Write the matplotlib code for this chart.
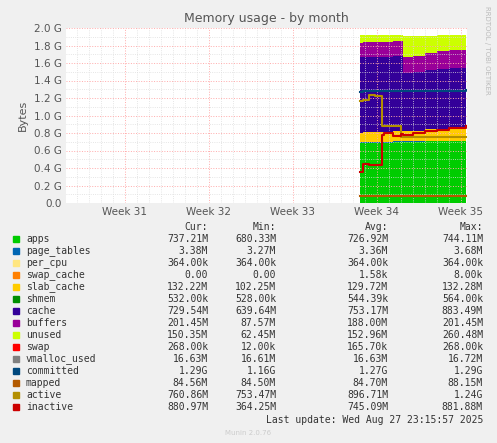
import numpy as np
import matplotlib.pyplot as plt

# tiempo en días desde el inicio de la semana 31
t = [19.6, 19.8, 20.3, 20.8, 21.4, 21.6, 22.3, 23.0, 23.2, 24.0, 25.0, 26.0, 27.0, 28.4]
apps = [0.69, 0.69, 0.69, 0.69, 0.69, 0.69, 0.70, 0.70, 0.70, 0.70, 0.71, 0.71, 0.71, 0.71]
page_tables = [0.003] * 14
per_cpu = [0.0004] * 14
swap_cache = [0.0] * 14
slab_cache = [0.11, 0.12, 0.12, 0.12, 0.12, 0.12, 0.12, 0.12, 0.12, 0.12, 0.13, 0.13, 0.13, 0.13]
shmem = [0.0005] * 14
cache = [0.87, 0.86, 0.86, 0.86, 0.86, 0.86, 0.86, 0.86, 0.66, 0.67, 0.68, 0.69, 0.70, 0.72]
buffers = [0.16, 0.17, 0.17, 0.17, 0.17, 0.17, 0.17, 0.17, 0.18, 0.19, 0.19, 0.20, 0.20, 0.20]
unused = [0.09, 0.08, 0.08, 0.08, 0.08, 0.08, 0.07, 0.07, 0.24, 0.22, 0.20, 0.19, 0.18, 0.15]
committed = [1.27, 1.28, 1.28, 1.28, 1.28, 1.28, 1.28, 1.28, 1.28, 1.28, 1.28, 1.28, 1.28, 1.29]
mapped = [0.085] * 14
active = [1.17, 1.18, 1.23, 1.22, 0.88, 0.88, 0.88, 0.76, 0.76, 0.76, 0.76, 0.76, 0.76, 0.76]
inactive = [0.35, 0.45, 0.43, 0.44, 0.78, 0.80, 0.77, 0.79, 0.78, 0.80, 0.82, 0.84, 0.86, 0.88]

stack_names = ['apps', 'page_tables', 'per_cpu', 'swap_cache', 'slab_cache', 'shmem',
               'cache', 'buffers', 'unused']
stack_vals = [apps, page_tables, per_cpu, swap_cache, slab_cache, shmem, cache, buffers, unused]
colors = {'apps': '#00cc00', 'page_tables': '#0066b3', 'per_cpu': '#ffe680',
          'swap_cache': '#ff8000', 'slab_cache': '#ffcc00', 'shmem': '#008f00',
          'cache': '#330099', 'buffers': '#990099', 'unused': '#ccff00',
          'swap': '#ff0000', 'vmalloc_used': '#808080', 'committed': '#00487d',
          'mapped': '#b35a00', 'active': '#b38f00', 'inactive': '#cc0000'}

legend_rows = [
    ('apps', '737.21M', '680.33M', '726.92M', '744.11M'),
    ('page_tables', '3.38M', '3.27M', '3.36M', '3.68M'),
    ('per_cpu', '364.00k', '364.00k', '364.00k', '364.00k'),
    ('swap_cache', '0.00', '0.00', '1.58k', '8.00k'),
    ('slab_cache', '132.22M', '102.25M', '129.72M', '132.28M'),
    ('shmem', '532.00k', '528.00k', '544.39k', '564.00k'),
    ('cache', '729.54M', '639.64M', '753.17M', '883.49M'),
    ('buffers', '201.45M', '87.57M', '188.00M', '201.45M'),
    ('unused', '150.35M', '62.45M', '152.96M', '260.48M'),
    ('swap', '268.00k', '12.00k', '165.70k', '268.00k'),
    ('vmalloc_used', '16.63M', '16.61M', '16.63M', '16.72M'),
    ('committed', '1.29G', '1.16G', '1.27G', '1.29G'),
    ('mapped', '84.56M', '84.50M', '84.70M', '88.15M'),
    ('active', '760.86M', '753.47M', '896.71M', '1.24G'),
    ('inactive', '880.97M', '364.25M', '745.09M', '881.88M'),
]

W, H = 497, 443
fig = plt.figure(figsize=(W / 100, H / 100), dpi=100, facecolor='#f0f0f0')
ax = fig.add_axes([66 / W, 1 - 203 / H, (467 - 66) / W, (203 - 28) / H])
ax.set_facecolor('white')

base = np.zeros(len(t))
for name, vals in zip(stack_names, stack_vals):
    top = base + np.array(vals)
    ax.fill_between(t, base, top, step='post', color=colors[name], lw=0)
    base = top
ax.step(t, committed, where='post', color=colors['committed'], lw=1.5)
ax.step(t, mapped, where='post', color=colors['mapped'], lw=1.5)
ax.step(t, active, where='post', color=colors['active'], lw=1.5)
ax.step(t, inactive, where='post', color=colors['inactive'], lw=1.5)

ax.set_xlim(-4.9, 28.5)
ax.set_ylim(0, 2.0)
ax.set_yticks(np.arange(0, 2.01, 0.2))
ax.set_yticklabels(['0.0'] + [f'{v:.1f} G' for v in np.arange(0.2, 2.01, 0.2)], fontsize=7.5, color='#555555')
ax.set_xticks([0, 7, 14, 21, 28])
ax.set_xticklabels(['Week 31', 'Week 32', 'Week 33', 'Week 34', 'Week 35'], fontsize=7.5, color='#555555')
ax.set_xticks(np.arange(-4, 29, 1), minor=True)
ax.set_yticks(np.arange(0, 2.01, 0.1), minor=True)
ax.grid(True, which='minor', color='#dddddd', ls=':', lw=0.6)
ax.grid(True, which='major', color='#ffaaaa', ls=':', lw=0.7)
ax.tick_params(which='both', length=0, pad=3)
for s in ax.spines.values():
    s.set_visible(False)
ax.set_ylabel('Bytes', fontsize=8, color='#555555')
ax.set_title('Memory usage - by month', fontsize=9, color='#555555', pad=4)
fig.text(487 / W, 1 - 50 / H, 'RRDTOOL / TOBI OETIKER', rotation=270, fontsize=5,
         color='#bbbbbb', ha='center', va='center')

y0 = 239
fs = 7
mono = 'DejaVu Sans Mono'
for i, (name, cur, mn, avg, mx) in enumerate(legend_rows):
    y = 1 - (y0 + i * 12) / H
    fig.patches.append(plt.Rectangle((13 / W, y - 3 / H), 6 / W, 6 / H,
                                     transform=fig.transFigure, color=colors[name]))
    fig.text(26 / W, y, name, fontsize=fs, va='center', color='#333333', family=mono)
    for x, v in zip([208, 276, 388, 483], [cur, mn, avg, mx]):
        fig.text(x / W, y, v, fontsize=fs, va='center', ha='right', color='#333333', family=mono)
hy = 1 - 227 / H
for x, v in zip([208, 276, 388, 483], ['Cur:', 'Min:', 'Avg:', 'Max:']):
    fig.text(x / W, hy, v, fontsize=fs, va='center', ha='right', color='#333333', family=mono)
fig.text(483 / W, 1 - 420 / H, 'Last update: Wed Aug 27 23:15:57 2025', fontsize=fs,
         va='center', ha='right', color='#333333', family=mono)
fig.text(248 / W, 1 - 433 / H, 'Munin 2.0.76', fontsize=5, ha='center', va='center', color='#cccccc')

fig.savefig('out.png', dpi=100, facecolor=fig.get_facecolor())
